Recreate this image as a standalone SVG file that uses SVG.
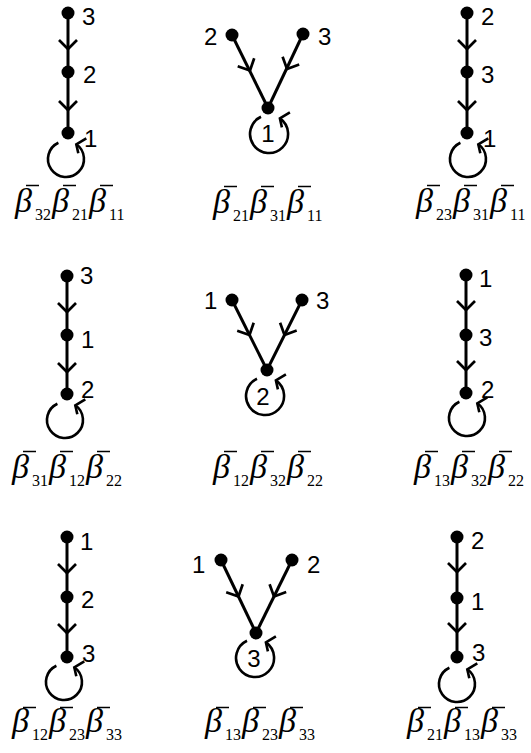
<svg xmlns="http://www.w3.org/2000/svg" width="531" height="753" viewBox="0 0 531 753">
<style>
.edge{stroke:#000;stroke-width:3;fill:none}
.chev{stroke:#000;stroke-width:2.7;fill:none;stroke-linejoin:miter}
.loop{stroke:#000;stroke-width:2.6;fill:none}
.dot{fill:#000}
.num{font-family:"Liberation Sans",Arial,sans-serif;font-size:24px;fill:#000}
.numc{font-family:"Liberation Sans",Arial,sans-serif;font-size:24px;fill:#000;text-anchor:middle}
.lab{font-family:"Liberation Serif","Times New Roman",serif;fill:#000}
.b{font-style:italic;font-size:34px}
.s{font-size:16px}
.bar{stroke:#000;stroke-width:1.5}
</style>
<rect width="531" height="753" fill="#fff"/>

<g id="connectors">
  <!-- panel 1 -->
  <line class="edge" x1="68" y1="13" x2="68" y2="133"/>
  <polyline class="chev" points="59,40 68,49 77,40"/>
  <polyline class="chev" points="59,101 68,110 77,101"/>
  <path class="loop" d="M58.4,142.7 A18,18 0 1 0 76.3,144.3"/>
  <polyline class="loop" points="86.3,138.3 76.3,144.3 78.3,153.3"/>
  <!-- panel 2 -->
  <line class="edge" x1="232" y1="35" x2="268" y2="108"/>
  <line class="edge" x1="303" y1="34" x2="268" y2="108"/>
  <polyline class="chev" points="237.7,66.3 250,70.5 254.2,58.2"/>
  <polyline class="chev" points="299.2,64.6 287,69 282.6,56.8"/>
  <path class="loop" d="M261,116.8 A19,19 0 1 0 279.9,118.4"/>
  <polyline class="loop" points="289.9,112.4 279.9,118.4 281.9,127.4"/>
  <!-- panel 3 -->
  <line class="edge" x1="467" y1="13" x2="467" y2="133"/>
  <polyline class="chev" points="458,40 467,49 476,40"/>
  <polyline class="chev" points="458,101 467,110 476,101"/>
  <path class="loop" d="M460.4,142.7 A18,18 0 1 0 478.3,144.3"/>
  <polyline class="loop" points="488.3,138.3 478.3,144.3 480.3,153.3"/>
  <!-- panel 4 -->
  <line class="edge" x1="67" y1="276" x2="67" y2="394"/>
  <polyline class="chev" points="58,303 67,312 76,303"/>
  <polyline class="chev" points="58,363 67,372 76,363"/>
  <path class="loop" d="M57.4,403.7 A18,18 0 1 0 75.3,405.3"/>
  <polyline class="loop" points="85.3,399.3 75.3,405.3 77.3,414.3"/>
  <!-- panel 5 -->
  <line class="edge" x1="232" y1="300" x2="267" y2="370"/>
  <line class="edge" x1="302" y1="300" x2="267" y2="370"/>
  <polyline class="chev" points="237.2,330.8 249.5,335 253.7,322.7"/>
  <polyline class="chev" points="296.7,330.6 284.5,335 280.1,322.8"/>
  <path class="loop" d="M257,378.8 A19,19 0 1 0 275.9,380.4"/>
  <polyline class="loop" points="285.9,374.4 275.9,380.4 277.9,389.4"/>
  <!-- panel 6 -->
  <line class="edge" x1="466" y1="275" x2="466" y2="393"/>
  <polyline class="chev" points="457,301 466,310 475,301"/>
  <polyline class="chev" points="457,361 466,370 475,361"/>
  <path class="loop" d="M459.4,401.7 A18,18 0 1 0 477.3,403.3"/>
  <polyline class="loop" points="487.3,397.3 477.3,403.3 479.3,412.3"/>
  <!-- panel 7 -->
  <line class="edge" x1="67" y1="537" x2="67" y2="657"/>
  <polyline class="chev" points="58,564 67,573 76,564"/>
  <polyline class="chev" points="58,624 67,633 76,624"/>
  <path class="loop" d="M56.4,665.7 A18,18 0 1 0 74.3,667.3"/>
  <polyline class="loop" points="84.3,661.3 74.3,667.3 76.3,676.3"/>
  <!-- panel 8 -->
  <line class="edge" x1="221" y1="560" x2="256" y2="633"/>
  <line class="edge" x1="292" y1="560" x2="256" y2="633"/>
  <polyline class="chev" points="226.2,592.3 238.5,596.5 242.7,584.2"/>
  <polyline class="chev" points="286.2,592.1 274,596.5 269.6,584.3"/>
  <path class="loop" d="M247,640.8 A19,19 0 1 0 265.9,642.4"/>
  <polyline class="loop" points="275.9,636.4 265.9,642.4 267.9,651.4"/>
  <!-- panel 9 -->
  <line class="edge" x1="457" y1="537" x2="457" y2="657"/>
  <polyline class="chev" points="448,563 457,572 466,563"/>
  <polyline class="chev" points="448,623 457,632 466,623"/>
  <path class="loop" d="M449.4,667.7 A18,18 0 1 0 467.3,669.3"/>
  <polyline class="loop" points="477.3,663.3 467.3,669.3 469.3,678.3"/>
</g>

<!-- Panel 1 -->
<g id="p1">
  <circle class="dot" cx="68" cy="13" r="6.5"/><circle class="dot" cx="68" cy="72" r="6.5"/><circle class="dot" cx="68" cy="133" r="6.5"/>
  <text class="num" x="82" y="25">3</text><text class="num" x="83" y="83">2</text><text class="num" x="84" y="147">1</text>
  <text class="lab" y="212"><tspan class="b" x="15">β</tspan><tspan class="s" x="35" y="220">32</tspan><tspan class="b" x="52" y="212">β</tspan><tspan class="s" x="72" y="220">21</tspan><tspan class="b" x="89" y="212">β</tspan><tspan class="s" x="109" y="220">11</tspan></text>
  <line class="bar" x1="26" y1="185.5" x2="39" y2="185.5"/><line class="bar" x1="63" y1="185.5" x2="76" y2="185.5"/><line class="bar" x1="100" y1="185.5" x2="113" y2="185.5"/>
</g>

<!-- Panel 2 -->
<g id="p2">
  <circle class="dot" cx="232" cy="35" r="6.5"/><circle class="dot" cx="303" cy="34" r="6.5"/><circle class="dot" cx="268" cy="108" r="6.5"/>
  <text class="num" x="204" y="45">2</text><text class="num" x="318" y="45">3</text><text class="numc" x="268" y="142">1</text>
  <text class="lab" y="213"><tspan class="b" x="213">β</tspan><tspan class="s" x="233" y="221">21</tspan><tspan class="b" x="250" y="213">β</tspan><tspan class="s" x="270" y="221">31</tspan><tspan class="b" x="287" y="213">β</tspan><tspan class="s" x="307" y="221">11</tspan></text>
  <line class="bar" x1="224" y1="186.5" x2="237" y2="186.5"/><line class="bar" x1="261" y1="186.5" x2="274" y2="186.5"/><line class="bar" x1="298" y1="186.5" x2="311" y2="186.5"/>
</g>

<!-- Panel 3 -->
<g id="p3">
  <circle class="dot" cx="467" cy="13" r="6.5"/><circle class="dot" cx="467" cy="72" r="6.5"/><circle class="dot" cx="467" cy="133" r="6.5"/>
  <text class="num" x="481" y="25">2</text><text class="num" x="481" y="83">3</text><text class="num" x="483" y="147">1</text>
  <text class="lab" y="212"><tspan class="b" x="416">β</tspan><tspan class="s" x="436" y="220">23</tspan><tspan class="b" x="453" y="212">β</tspan><tspan class="s" x="473" y="220">31</tspan><tspan class="b" x="490" y="212">β</tspan><tspan class="s" x="510" y="220">11</tspan></text>
  <line class="bar" x1="427" y1="185.5" x2="440" y2="185.5"/><line class="bar" x1="464" y1="185.5" x2="477" y2="185.5"/><line class="bar" x1="501" y1="185.5" x2="514" y2="185.5"/>
</g>

<!-- Panel 4 -->
<g id="p4">
  <circle class="dot" cx="67" cy="276" r="6.5"/><circle class="dot" cx="67" cy="335" r="6.5"/><circle class="dot" cx="67" cy="394" r="6.5"/>
  <text class="num" x="80" y="284">3</text><text class="num" x="81" y="348">1</text><text class="num" x="81" y="398">2</text>
  <text class="lab" y="478"><tspan class="b" x="12">β</tspan><tspan class="s" x="32" y="486">31</tspan><tspan class="b" x="49" y="478">β</tspan><tspan class="s" x="69" y="486">12</tspan><tspan class="b" x="86" y="478">β</tspan><tspan class="s" x="106" y="486">22</tspan></text>
  <line class="bar" x1="23" y1="451.5" x2="36" y2="451.5"/><line class="bar" x1="60" y1="451.5" x2="73" y2="451.5"/><line class="bar" x1="97" y1="451.5" x2="110" y2="451.5"/>
</g>

<!-- Panel 5 -->
<g id="p5">
  <circle class="dot" cx="232" cy="300" r="6.5"/><circle class="dot" cx="302" cy="300" r="6.5"/><circle class="dot" cx="267" cy="370" r="6.5"/>
  <text class="num" x="204" y="309">1</text><text class="num" x="316" y="309">3</text><text class="numc" x="263" y="405">2</text>
  <text class="lab" y="478"><tspan class="b" x="213">β</tspan><tspan class="s" x="233" y="486">12</tspan><tspan class="b" x="250" y="478">β</tspan><tspan class="s" x="270" y="486">32</tspan><tspan class="b" x="287" y="478">β</tspan><tspan class="s" x="307" y="486">22</tspan></text>
  <line class="bar" x1="224" y1="451.5" x2="237" y2="451.5"/><line class="bar" x1="261" y1="451.5" x2="274" y2="451.5"/><line class="bar" x1="298" y1="451.5" x2="311" y2="451.5"/>
</g>

<!-- Panel 6 -->
<g id="p6">
  <circle class="dot" cx="466" cy="275" r="6.5"/><circle class="dot" cx="466" cy="335" r="6.5"/><circle class="dot" cx="466" cy="393" r="6.5"/>
  <text class="num" x="479" y="287">1</text><text class="num" x="479" y="346">3</text><text class="num" x="481" y="398">2</text>
  <text class="lab" y="478"><tspan class="b" x="414">β</tspan><tspan class="s" x="434" y="486">13</tspan><tspan class="b" x="451" y="478">β</tspan><tspan class="s" x="471" y="486">32</tspan><tspan class="b" x="488" y="478">β</tspan><tspan class="s" x="508" y="486">22</tspan></text>
  <line class="bar" x1="425" y1="451.5" x2="438" y2="451.5"/><line class="bar" x1="462" y1="451.5" x2="475" y2="451.5"/><line class="bar" x1="499" y1="451.5" x2="512" y2="451.5"/>
</g>

<!-- Panel 7 -->
<g id="p7">
  <circle class="dot" cx="67" cy="537" r="6.5"/><circle class="dot" cx="67" cy="597" r="6.5"/><circle class="dot" cx="67" cy="657" r="6.5"/>
  <text class="num" x="80" y="550">1</text><text class="num" x="81" y="608">2</text><text class="num" x="82" y="662">3</text>
  <text class="lab" y="732"><tspan class="b" x="12">β</tspan><tspan class="s" x="32" y="740">12</tspan><tspan class="b" x="49" y="732">β</tspan><tspan class="s" x="69" y="740">23</tspan><tspan class="b" x="86" y="732">β</tspan><tspan class="s" x="106" y="740">33</tspan></text>
  <line class="bar" x1="23" y1="707.5" x2="36" y2="707.5"/><line class="bar" x1="60" y1="707.5" x2="73" y2="707.5"/><line class="bar" x1="97" y1="707.5" x2="110" y2="707.5"/>
</g>

<!-- Panel 8 -->
<g id="p8">
  <circle class="dot" cx="221" cy="560" r="6.5"/><circle class="dot" cx="292" cy="560" r="6.5"/><circle class="dot" cx="256" cy="633" r="6.5"/>
  <text class="num" x="192" y="573">1</text><text class="num" x="307" y="573">2</text><text class="numc" x="254" y="667">3</text>
  <text class="lab" y="732"><tspan class="b" x="205">β</tspan><tspan class="s" x="225" y="740">13</tspan><tspan class="b" x="242" y="732">β</tspan><tspan class="s" x="262" y="740">23</tspan><tspan class="b" x="279" y="732">β</tspan><tspan class="s" x="299" y="740">33</tspan></text>
  <line class="bar" x1="216" y1="707.5" x2="229" y2="707.5"/><line class="bar" x1="253" y1="707.5" x2="266" y2="707.5"/><line class="bar" x1="290" y1="707.5" x2="303" y2="707.5"/>
</g>

<!-- Panel 9 -->
<g id="p9">
  <circle class="dot" cx="457" cy="537" r="6.5"/><circle class="dot" cx="457" cy="598" r="6.5"/><circle class="dot" cx="457" cy="657" r="6.5"/>
  <text class="num" x="471" y="549">2</text><text class="num" x="471" y="610">1</text><text class="num" x="472" y="661">3</text>
  <text class="lab" y="732"><tspan class="b" x="407">β</tspan><tspan class="s" x="427" y="740">21</tspan><tspan class="b" x="444" y="732">β</tspan><tspan class="s" x="464" y="740">13</tspan><tspan class="b" x="481" y="732">β</tspan><tspan class="s" x="501" y="740">33</tspan></text>
  <line class="bar" x1="418" y1="707.5" x2="431" y2="707.5"/><line class="bar" x1="455" y1="707.5" x2="468" y2="707.5"/><line class="bar" x1="492" y1="707.5" x2="505" y2="707.5"/>
</g>
</svg>
